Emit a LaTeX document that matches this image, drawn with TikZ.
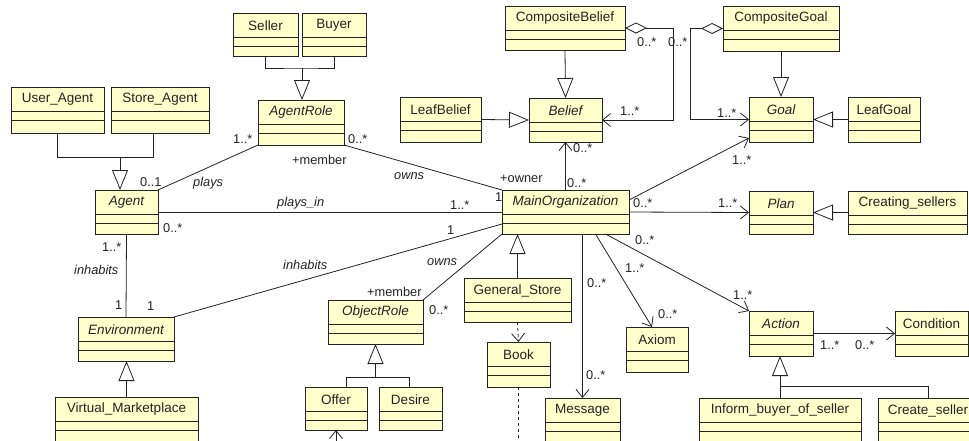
\documentclass[tikz,border=0pt]{standalone}
\usepackage{fontspec}
\setmainfont{Liberation Sans}
\usetikzlibrary{arrows.meta}

\definecolor{classfill}{RGB}{255,255,204}
\definecolor{ink}{RGB}{35,35,35}

\newcommand\classfont{\fontsize{13.5}{16}\selectfont}
\newcommand\labelfont{\fontsize{12.8}{15}\selectfont}

% UML class box: id, left, top, right, bottom, name, name style
\newcommand\umlclass[7]{%
  \node[classbox, minimum width={(#4-#2)*1pt}, minimum height={(#5-#3)*1pt}]
    (#1) at ({(#2+#4)/2},{(#3+#5)/2}) {};
  \draw[classline] ([yshift=-24pt]#1.north west) -- ([yshift=-24pt]#1.north east)
                   ([yshift=-33pt]#1.north west) -- ([yshift=-33pt]#1.north east);
  \node[classname, font=\classfont#7] (#1-name) at ([yshift=-12.5pt]#1.north) {#6};
}

\tikzset{
  classbox/.style={rectangle, draw=ink, fill=classfill, line width=1pt, inner sep=0pt, outer sep=0pt},
  classline/.style={draw=ink, line width=1pt},
  classname/.style={inner sep=0pt, text=ink},
  conn/.style={draw=ink, line width=0.8pt},
  gen/.style={conn, -{Triangle[open, length=20pt, width=16pt, fill=white]}},
  nav/.style={conn, -{Straight Barb[length=8pt, width=13pt]}},
  dep/.style={nav, dashed},
  agg/.style={conn, {Diamond[open, length=22pt, width=11pt, fill=white]}-{Straight Barb[length=8pt, width=13pt]}},
  mult/.style={anchor=west, inner sep=0pt, text=ink, font=\labelfont},
  role/.style={mult, font=\labelfont\itshape},
}

\begin{document}
\begin{tikzpicture}[x=1pt, y=-1pt]
  \fill[white] (0,0) rectangle (969,440);
  \path[use as bounding box, clip] (0,0) rectangle (969,440);

  % ---------- classes ----------
  \umlclass{seller}{233}{13}{298}{56}{Seller}{}
  \umlclass{buyer}{302}{13}{366}{56}{Buyer}{}
  \umlclass{userag}{11}{87}{104}{133}{User\_Agent}{}
  \umlclass{storeag}{111}{87}{209}{133}{Store\_Agent}{}
  \umlclass{agentrole}{258}{100}{344}{145}{AgentRole}{\itshape}
  \umlclass{agent}{95}{190}{158}{234}{Agent}{\itshape}
  \umlclass{compbelief}{505}{6}{625}{50}{CompositeBelief}{}
  \umlclass{leafbelief}{400}{97}{481}{142}{LeafBelief}{}
  \umlclass{belief}{529}{98}{602}{142}{Belief}{\itshape}
  \umlclass{compgoal}{723}{6}{839}{51}{CompositeGoal}{}
  \umlclass{goal}{749}{97}{813}{142}{Goal}{\itshape}
  \umlclass{leafgoal}{848}{97}{920}{142}{LeafGoal}{}
  \umlclass{mainorg}{502}{190}{629}{234}{MainOrganization}{\itshape}
  \umlclass{plan}{749}{191}{813}{234}{Plan}{\itshape}
  \umlclass{creating}{848}{191}{967}{234}{Creating\_sellers}{}
  \umlclass{environment}{78}{317}{174}{361}{Environment}{\itshape}
  \umlclass{virtual}{55}{397}{198}{443}{Virtual\_Marketplace}{}
  \umlclass{objectrole}{328}{300}{423}{344}{ObjectRole}{\itshape}
  \umlclass{offer}{305}{387}{367}{430}{Offer}{}
  \umlclass{desire}{379}{387}{442}{430}{Desire}{}
  \umlclass{generalstore}{464}{278}{571}{322}{General\_Store}{}
  \umlclass{book}{487}{342}{550}{387}{Book}{}
  \umlclass{message}{545}{398}{620}{443}{Message}{}
  \umlclass{axiom}{626}{327}{688}{372}{Axiom}{}
  \umlclass{action}{749}{311}{813}{356}{Action}{\itshape}
  \umlclass{condition}{895}{311}{968}{356}{Condition}{}
  \umlclass{inform}{699}{398}{861}{443}{Inform\_buyer\_of\_seller}{}
  \umlclass{createseller}{878}{398}{978}{443}{Create\_seller}{}

  % ---------- generalisations ----------
  \coordinate (jRole) at (302,68);
  \draw[conn] (seller.south) |- (jRole) -| (buyer.south);
  \draw[gen] (jRole) -- (jRole |- agentrole.north);

  \coordinate (jAgent) at (120,157);
  \coordinate (jStore) at (153,157);
  \draw[conn] (userag.south) |- (jStore) -- (jStore |- storeag.south);
  \draw[gen] (jAgent) -- (jAgent |- agent.north);

  \draw[gen] (compbelief.south) -- (belief.north);
  \draw[gen] (leafbelief.east) -- (belief.west);
  \draw[gen] (compgoal.south) -- (goal.north);
  \draw[gen] (leafgoal.west) -- (goal.east);
  \draw[gen] (creating.west) -- (plan.east);
  \draw[gen] (generalstore.north) -- (generalstore.north |- mainorg.south);
  \draw[gen] (virtual.north) -- (virtual.north |- environment.south);

  \coordinate (jObj) at (375.5,377);
  \coordinate (jOffer) at (346,377);
  \coordinate (jDesire) at (409,377);
  \draw[conn] (jOffer |- offer.north) -- (jOffer) -- (jDesire) -- (jDesire |- desire.north);
  \draw[gen] (jObj) -- (jObj |- objectrole.south);

  \coordinate (jAct) at (780,386);
  \draw[conn] (inform.north) -- (jAct) -| (createseller.north);
  \draw[gen] (jAct) -- (jAct |- action.south);

  % ---------- associations ----------
  \draw[conn] (agent.north east) -- (agentrole.south west);
  \draw[conn] (agentrole.south east) -- (mainorg.north west);
  \draw[conn] (agent.east) -- (mainorg.west);
  \draw[conn] (agent.south) -- (environment.north);
  \draw[conn] ([yshift=-12pt]mainorg.west) -- (environment.north east);
  \draw[conn] (mainorg.south west) -- (objectrole.north east);
  \draw[nav] (mainorg.north) -- (belief.south);

  \coordinate (cbTurn) at (673,28);
  \coordinate (cgTurn) at (690,28.5);
  \draw[agg] (compbelief.east) -- (cbTurn) |- (belief.east);
  \draw[agg] (compgoal.west) -- (cgTurn) |- (goal.west);

  \draw[nav] ([yshift=-10pt]mainorg.north east) -- ([yshift=4pt]goal.south west);
  \draw[nav] (mainorg.east) -- (plan.west);
  \draw[nav] (message.north |- mainorg.south) -- (message.north);
  \draw[nav] ([xshift=30pt]mainorg.south) -- ([xshift=-5pt]axiom.north);
  \draw[nav] ([xshift=40pt]mainorg.south) -- (action.north west);
  \draw[nav] (action.east) -- (condition.west);

  % ---------- dependencies ----------
  \draw[dep] (generalstore.south) -- (book.north);
  \coordinate (bookTail) at (518.5,446);
  \draw[conn, dashed] (book.south) -- (bookTail);
  \coordinate (offerTail) at (336,446);
  \draw[nav] (offerTail) -- (offer.south);

  % ---------- association ends and names ----------
  \node[mult] (m1) at (233,139) {1..*};
  \node[mult] (m2) at (140,182) {0..1};
  \node[role] (m3) at (193,183) {plays};
  \node[mult] (m4) at (348,139) {0..*};
  \node[mult] (m5) at (292,160) {+member};
  \node[role] (m6) at (394,176) {owns};
  \node[mult] (m7) at (500,179) {+owner};
  \node[mult] (m8) at (495,197) {1};
  \node[role] (m9) at (277,203) {plays\_in};
  \node[mult] (m10) at (450,205) {1..*};
  \node[mult] (m11) at (163,228) {0..*};
  \node[mult] (m12) at (102,247) {1..*};
  \node[role] (m13) at (74,270) {inhabits};
  \node[mult] (m14) at (115,305) {1};
  \node[mult] (m15) at (147,306) {1};
  \node[role] (m16) at (283,265) {inhabits};
  \node[mult] (m17) at (447,230) {1};
  \node[role] (m18) at (427,262) {owns};
  \node[mult] (m19) at (367,292) {+member};
  \node[mult] (m20) at (429,310) {0..*};
  \node[mult] (m21) at (567,183) {0..*};
  \node[mult] (m22) at (573,148) {0..*};
  \node[mult] (m23) at (620,111) {1..*};
  \node[mult] (m24) at (637,42) {0..*};
  \node[mult] (m25) at (668,42) {0..*};
  \node[mult] (m26) at (717,113) {1..*};
  \node[mult] (m27) at (732,160) {1..*};
  \node[mult] (m28) at (633,203) {0..*};
  \node[mult] (m29) at (718,203) {1..*};
  \node[mult] (m30) at (635,240) {0..*};
  \node[mult] (m31) at (625,268) {1..*};
  \node[mult] (m32) at (587,283) {0..*};
  \node[mult] (m33) at (586,375) {0..*};
  \node[mult] (m34) at (658,314) {0..*};
  \node[mult] (m35) at (733,295) {1..*};
  \node[mult] (m36) at (820,345) {1..*};
  \node[mult] (m37) at (855,345) {0..*};
\end{tikzpicture}
\end{document}
